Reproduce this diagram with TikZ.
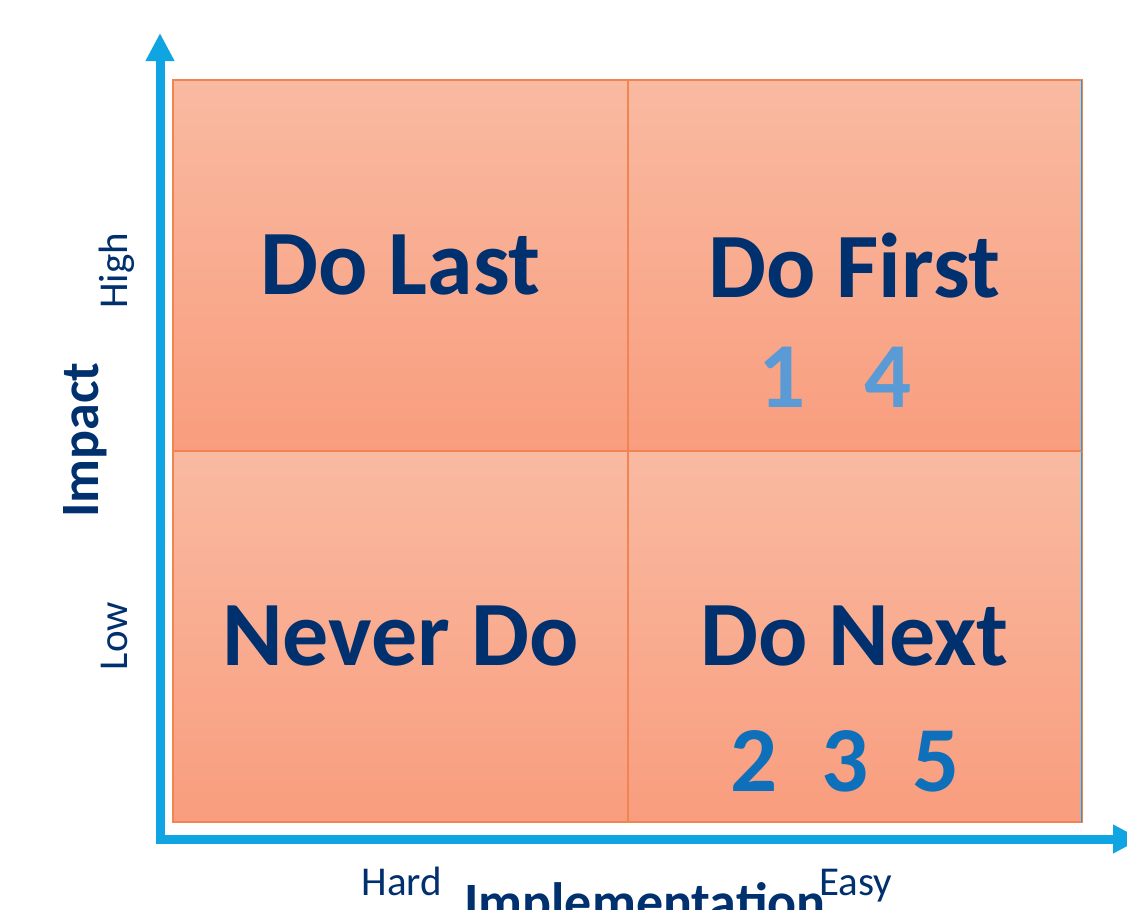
\documentclass[tikz,border=0pt]{standalone}
\usepackage{fontspec}
\setmainfont{Carlito}
\usetikzlibrary{arrows.meta, positioning}
\usepackage{xcolor}

\definecolor{navy}{RGB}{0,48,110}
\definecolor{axisblue}{RGB}{14,165,226}
\definecolor{quadtop}{RGB}{249,186,161}
\definecolor{quadbot}{RGB}{249,157,126}
\definecolor{quadline}{RGB}{240,132,82}
\definecolor{numlight}{RGB}{91,155,213}
\definecolor{numdark}{RGB}{14,112,186}

\begin{document}
\begin{tikzpicture}[
    x=1pt, y=-1pt,
    node distance=371pt and 454pt, % first value is vertical, second is horizontal
    on grid,
    quad/.style={rectangle, draw=quadline, line width=1.2pt, top color=quadtop, bottom color=quadbot, minimum width=454pt, minimum height=371pt, inner sep=0pt, text=navy, font=\fontsize{92}{96}\selectfont\bfseries},
    digit/.style={anchor=base, inner sep=0pt, font=\fontsize{93}{96}\selectfont\bfseries},
    tick/.style={anchor=base, inner sep=0pt, text=navy, font=\fontsize{41}{44}\selectfont},
    axislabel/.style={anchor=base, inner sep=0pt, text=navy, font=\fontsize{54}{58}\selectfont\bfseries},
    axis/.style={{Triangle[width=27pt, length=28pt]}-{Triangle[width=27pt, length=28pt]}, line width=9pt, draw=axisblue}
]
    \useasboundingbox (0,0) rectangle (1127,910);

    % Axes
    \coordinate (origin) at (160,839);
    \coordinate (ytip) at (160,33);
    \coordinate (xtip) at (1141,839);
    \draw[axis] (ytip) -- (origin) -- (xtip);

    % Top row
    \node[quad] (dolast) at (400.5,265.5) {Do Last};
    \node[quad, right=of dolast] (dofirst) {Do First};

    % Bottom row - placed below the top row counterparts
    \node[quad, below=of dolast] (neverdo) {Never Do};
    \node[quad, below=of dofirst] (donext) {Do Next};

    % Frame and dividers
    \draw[axisblue, line width=1.5pt] (dolast.north west) rectangle (donext.south east);
    \draw[quadline, line width=1.2pt] (dolast.north west) rectangle (donext.south east);
    \draw[quadline, line width=1.6pt] (dolast.north east) -- (neverdo.south east);
    \draw[quadline, line width=1.6pt] (dolast.south west) -- (dofirst.south east);

    % Items
    \node[digit, text=numlight] (n1) at (782,407) {1};
    \node[digit, text=numlight] (n4) at (888,407) {4};
    \node[digit, text=numdark] (n2) at (754.5,791) {2};
    \node[digit, text=numdark] (n3) at (845,791) {3};
    \node[digit, text=numdark] (n5) at (936.5,791) {5};

    % Axis labels
    \node[tick, rotate=90] (high) at (127,271) {High};
    \node[tick, rotate=90] (low) at (127,636) {Low};
    \node[axislabel, rotate=90] (impact) at (98,440) {Impact};
    \node[tick] (hard) at (402,895) {Hard};
    \node[tick] (easy) at (856,895) {Easy};
    \node[axislabel] (implementation) at (645,920) {Implementation};
\end{tikzpicture}
\end{document}
